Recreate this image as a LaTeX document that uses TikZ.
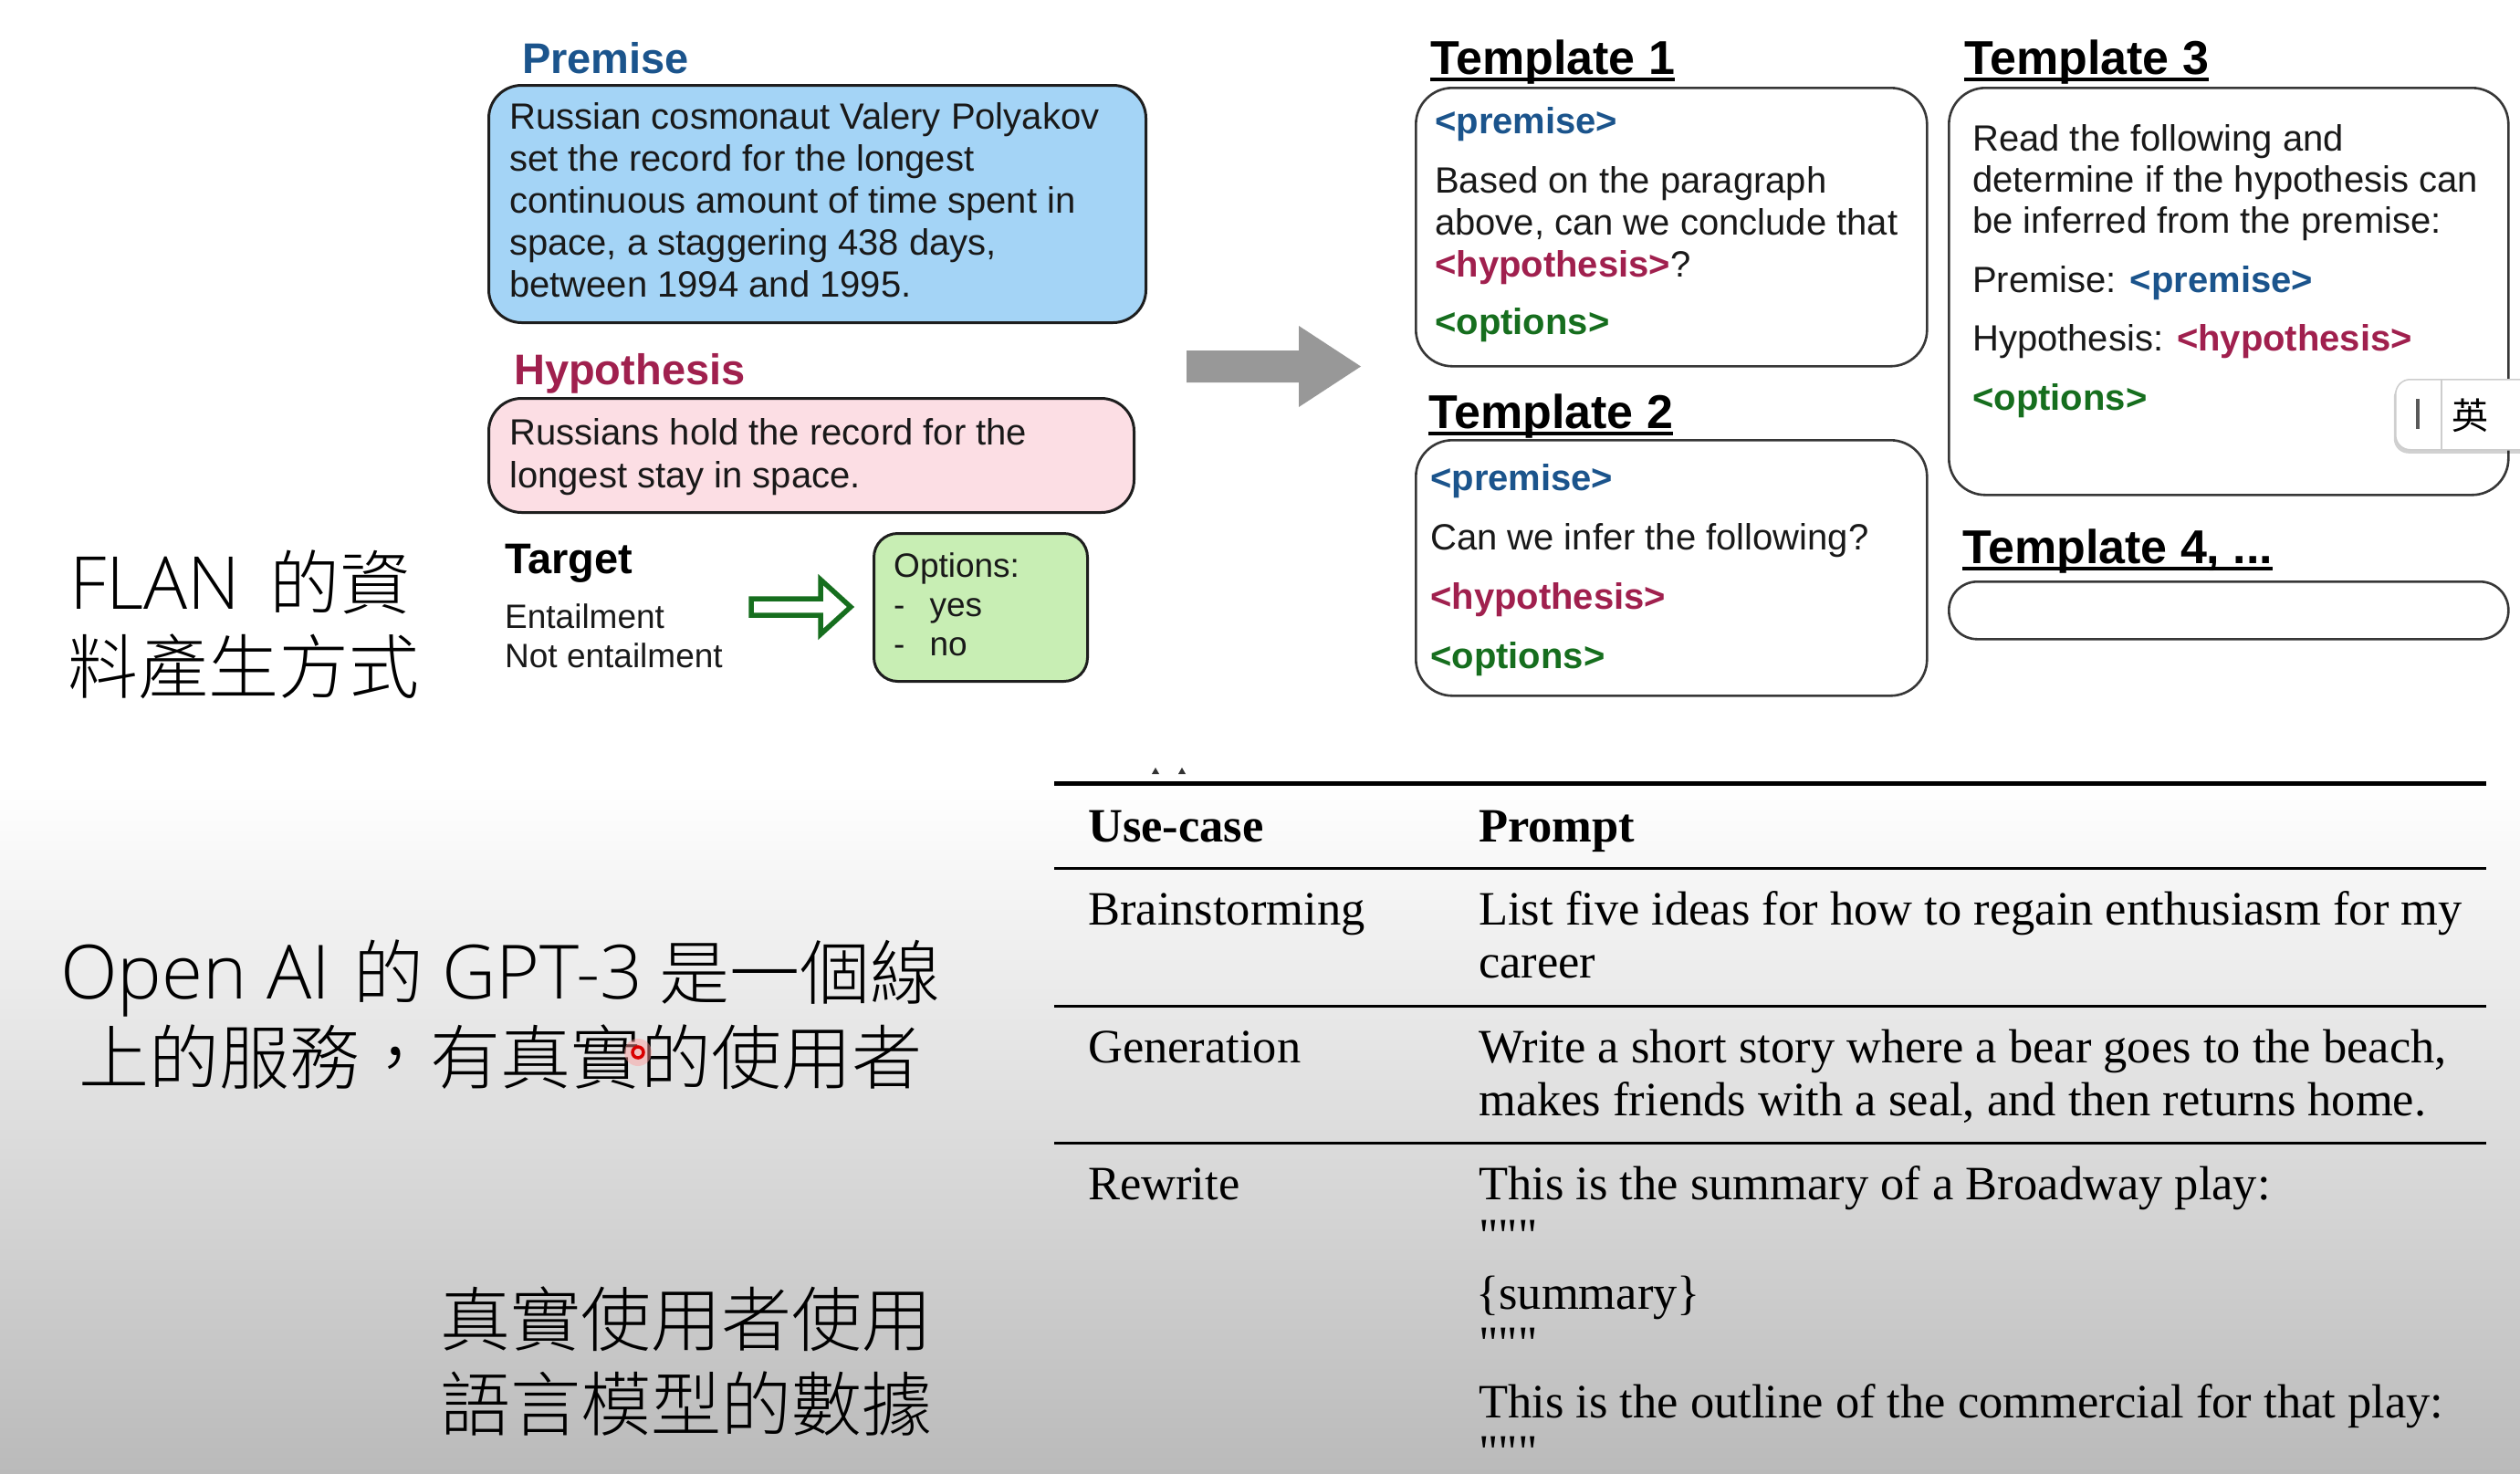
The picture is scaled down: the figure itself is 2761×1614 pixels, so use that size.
\documentclass[tikz,border=0pt]{standalone}
\usepackage{fontspec}
\setmainfont{Liberation Sans}
\newfontfamily\serifT{Liberation Serif}
\IfFontExistsTF{Noto Sans CJK TC Light}
  {\newfontfamily\cjk{Noto Sans CJK TC Light}}
  {\newfontfamily\cjk{Noto Sans CJK TC}}
\IfFontExistsTF{Open Sans Light}
  {\newfontfamily\latui{Open Sans Light}}
  {\newfontfamily\latui{Open Sans}}
\newfontfamily\cjkime{Noto Sans CJK TC}
\usetikzlibrary{shadows}
\definecolor{premblue}{RGB}{27,84,140}
\definecolor{hypred}{RGB}{160,32,78}
\definecolor{optgreen}{RGB}{22,110,30}
\definecolor{premfill}{RGB}{164,212,246}
\definecolor{hypfill}{RGB}{252,222,228}
\definecolor{optfill}{RGB}{200,238,180}
\definecolor{txtblack}{RGB}{25,25,25}
\definecolor{boxline}{RGB}{30,30,30}
\definecolor{tplline}{RGB}{55,55,55}
\definecolor{arrowgray}{RGB}{152,152,152}
\definecolor{bgbot}{RGB}{186,186,186}
\definecolor{imegray}{RGB}{205,205,205}
\begin{document}
\begin{tikzpicture}[x=1pt,y=-1pt,
  every node/.style={inner sep=0pt, anchor=base west, text=txtblack},
  txt/.style={font=\fontsize{40}{46}\selectfont},
  btxt/.style={font=\bfseries\fontsize{40}{46}\selectfont},
  lbl/.style={font=\bfseries\fontsize{47}{54}\selectfont},
  smalltxt/.style={font=\fontsize{37}{43}\selectfont},
  thdr/.style={font=\bfseries\fontsize{52}{60}\selectfont, text=black},
  tab/.style={font=\serifT\fontsize{52.5}{58}\selectfont, text=black},
  tabb/.style={font=\serifT\bfseries\fontsize{52.5}{58}\selectfont, text=black},
  cjkt/.style={font=\cjk\fontsize{77}{90}\selectfont, text=black},
  srcbox/.style={draw=boxline, line width=3, rounded corners=36, anchor=north west},
  tplbox/.style={draw=tplline, line width=2.6, rounded corners=40, fill=white, anchor=north west},
  uline/.style={line width=4, black},
  rule/.style={line width=3, black}
]
\useasboundingbox (0,0) rectangle (2761,1614);
\clip (0,0) rectangle (2761,1614);
% background
\fill[white] (0,0) rectangle (2761,1614);
\shade[top color=white, bottom color=bgbot] (0,860) rectangle (2761,1614);

% ---------- Premise ----------
\node[lbl, text=premblue] (premlbl) at (572,80) {Premise};
\node[srcbox, fill=premfill, minimum width=720, minimum height=260] (prembox) at (534,92) {};
\node[txt] (p1) at (558,141) {Russian cosmonaut Valery Polyakov};
\node[txt] (p2) at (558,187) {set the record for the longest};
\node[txt] (p3) at (558,233) {continuous amount of time spent in};
\node[txt] (p4) at (558,279) {space, a staggering 438 days,};
\node[txt] (p5) at (558,325) {between 1994 and 1995.};

% ---------- Hypothesis ----------
\node[lbl, text=hypred] (hyplbl) at (563,421) {Hypothesis};
\node[srcbox, fill=hypfill, minimum width=707, minimum height=125] (hypbox) at (534,435) {};
\node[txt] (h1) at (558,487) {Russians hold the record for the};
\node[txt] (h2) at (558,534) {longest stay in space.};

% ---------- Target ----------
\node[lbl, text=black] (tgtlbl) at (553,628) {Target};
\node[smalltxt] (ent) at (553,688) {Entailment};
\node[smalltxt] (nent) at (553,731) {Not entailment};
\draw[optgreen, line width=5.5, line join=miter, fill=white]
  (823,656) -- (899,656) -- (899,635) -- (932,665) -- (899,695) -- (899,674) -- (823,674) -- cycle;
\node[draw=boxline, line width=3, rounded corners=26, fill=optfill, anchor=north west,
  minimum width=234, minimum height=162] (optbox) at (956,583) {};
\node[smalltxt] (o1) at (979,632) {Options:};
\node[smalltxt] (o2) at (979,675) {-\hspace{27pt}yes};
\node[smalltxt] (o3) at (979,718) {-\hspace{27pt}no};

% ---------- big gray arrow ----------
\fill[arrowgray] (1300,384) -- (1423,384) -- (1423,357) -- (1491,401.5) -- (1423,446) -- (1423,419) -- (1300,419) -- cycle;

% ---------- Template 1 ----------
\node[thdr] (t1h) at (1567,81) {Template 1};
\draw[uline] ([yshift=-6pt]t1h.base west) -- ([yshift=-6pt]t1h.base east);
\node[tplbox, minimum width=560, minimum height=305] (t1box) at (1550,95) {};
\node[btxt, text=premblue] (t1a) at (1572,146) {<premise>};
\node[txt] (t1b) at (1572,211) {Based on the paragraph};
\node[txt] (t1c) at (1572,257) {above, can we conclude that};
\node[txt] (t1d) at (1572,303) {{\bfseries\color{hypred}<hypothesis>}?};
\node[btxt, text=optgreen] (t1e) at (1572,366) {<options>};

% ---------- Template 2 ----------
\node[thdr] (t2h) at (1565,469) {Template 2};
\draw[uline] ([yshift=-6pt]t2h.base west) -- ([yshift=-6pt]t2h.base east);
\node[tplbox, minimum width=560, minimum height=280] (t2box) at (1550,481) {};
\node[btxt, text=premblue] (t2a) at (1567,537) {<premise>};
\node[txt] (t2b) at (1567,602) {Can we infer the following?};
\node[btxt, text=hypred] (t2c) at (1567,667) {<hypothesis>};
\node[btxt, text=optgreen] (t2d) at (1567,732) {<options>};

% ---------- Template 3 ----------
\node[thdr] (t3h) at (2152,81) {Template 3};
\draw[uline] ([yshift=-6pt]t3h.base west) -- ([yshift=-6pt]t3h.base east);
\node[tplbox, minimum width=613, minimum height=446] (t3box) at (2134,95) {};
\node[txt] (t3a) at (2161,165) {Read the following and};
\node[txt] (t3b) at (2161,210) {determine if the hypothesis can};
\node[txt] (t3c) at (2161,255) {be inferred from the premise:};
\node[txt] (t3d) at (2161,320) {Premise: {\bfseries\color{premblue}<premise>}};
\node[txt] (t3e) at (2161,384) {Hypothesis: {\bfseries\color{hypred}<hypothesis>}};
\node[btxt, text=optgreen] (t3f) at (2161,449) {<options>};

% ---------- Template 4 ----------
\node[thdr] (t4h) at (2150,617) {Template 4, ...};
\draw[uline] ([yshift=-6pt]t4h.base west) -- ([yshift=-6pt]t4h.base east);
\node[tplbox, rounded corners=31, minimum width=613, minimum height=63] (t4box) at (2134,636) {};

% ---------- IME popup ----------
\node[draw=imegray, line width=1.5, fill=white, rounded corners=16, anchor=north west,
  minimum width=170, minimum height=77,
  drop shadow={shadow xshift=-2pt, shadow yshift=-4pt, opacity=0.18, fill=black}] (ime) at (2624,415) {};
\draw[imegray, line width=2] (2675,415) -- (2675,492);
\draw[black!65, line width=4.5] (2649,437) -- (2649,470);
\node[font=\cjkime\fontsize{40}{46}\selectfont, text=black, anchor=center] (imech) at (2706,455) {英};

% ---------- left CJK texts ----------
\node[cjkt] (flan1) at (76,667) {{\latui\fontsize{80}{90}\selectfont FLAN}\hspace{32pt}的資};
\node[cjkt] (flan2) at (74,759) {料產生方式};
\node[cjkt] (gpt1) at (66,1094) {{\latui\fontsize{82}{90}\selectfont Open AI}\hspace{25pt}的\hspace{20pt}{\latui\fontsize{82}{90}\selectfont GPT-3}\hspace{18pt}是一個線};
\node[cjkt] (gpt2) at (86,1187) {上的服務，有真實的使用者};
\node[cjkt] (real1) at (482,1474) {真實使用者使用};
\node[cjkt] (real2) at (482,1567) {語言模型的數據};
% laser pointer dot
\fill[red!40, opacity=0.45] (699,1153) circle (15);
\draw[red!85!black, line width=3.5] (699,1153) circle (6);

% ---------- table ----------
\fill[black!80] (1262,848) -- (1266,841) -- (1270,848) -- cycle;
\fill[black!80] (1291,848) -- (1295,841) -- (1299,848) -- cycle;
\draw[line width=5, black] (1155,858) -- (2724,858);
\node[tabb] (uc) at (1192,922) {Use-case};
\node[tabb] (pr) at (1620,922) {Prompt};
\draw[rule] (1155,951) -- (2724,951);
\node[tab] (r1a) at (1192,1013) {Brainstorming};
\node[tab] (r1b) at (1620,1013) {List five ideas for how to regain enthusiasm for my};
\node[tab] (r1c) at (1620,1071) {career};
\draw[rule] (1155,1102) -- (2724,1102);
\node[tab] (r2a) at (1192,1164) {Generation};
\node[tab] (r2b) at (1620,1164) {Write a short story where a bear goes to the beach,};
\node[tab] (r2c) at (1620,1222) {makes friends with a seal, and then returns home.};
\draw[rule] (1155,1252) -- (2724,1252);
\node[tab] (r3a) at (1192,1314) {Rewrite};
\node[tab] (r3b) at (1620,1314) {This is the summary of a Broadway play:};
\node[tab] (r3c) at (1620,1371) {\symbol{34}\symbol{34}\symbol{34}};
\node[tab] (r3d) at (1617,1434) {\{summary\}};
\node[tab] (r3e) at (1620,1489) {\symbol{34}\symbol{34}\symbol{34}};
\node[tab] (r3f) at (1620,1553) {This is the outline of the commercial for that play:};
\node[tab] (r3g) at (1620,1608) {\symbol{34}\symbol{34}\symbol{34}};
\end{tikzpicture}
\end{document}
